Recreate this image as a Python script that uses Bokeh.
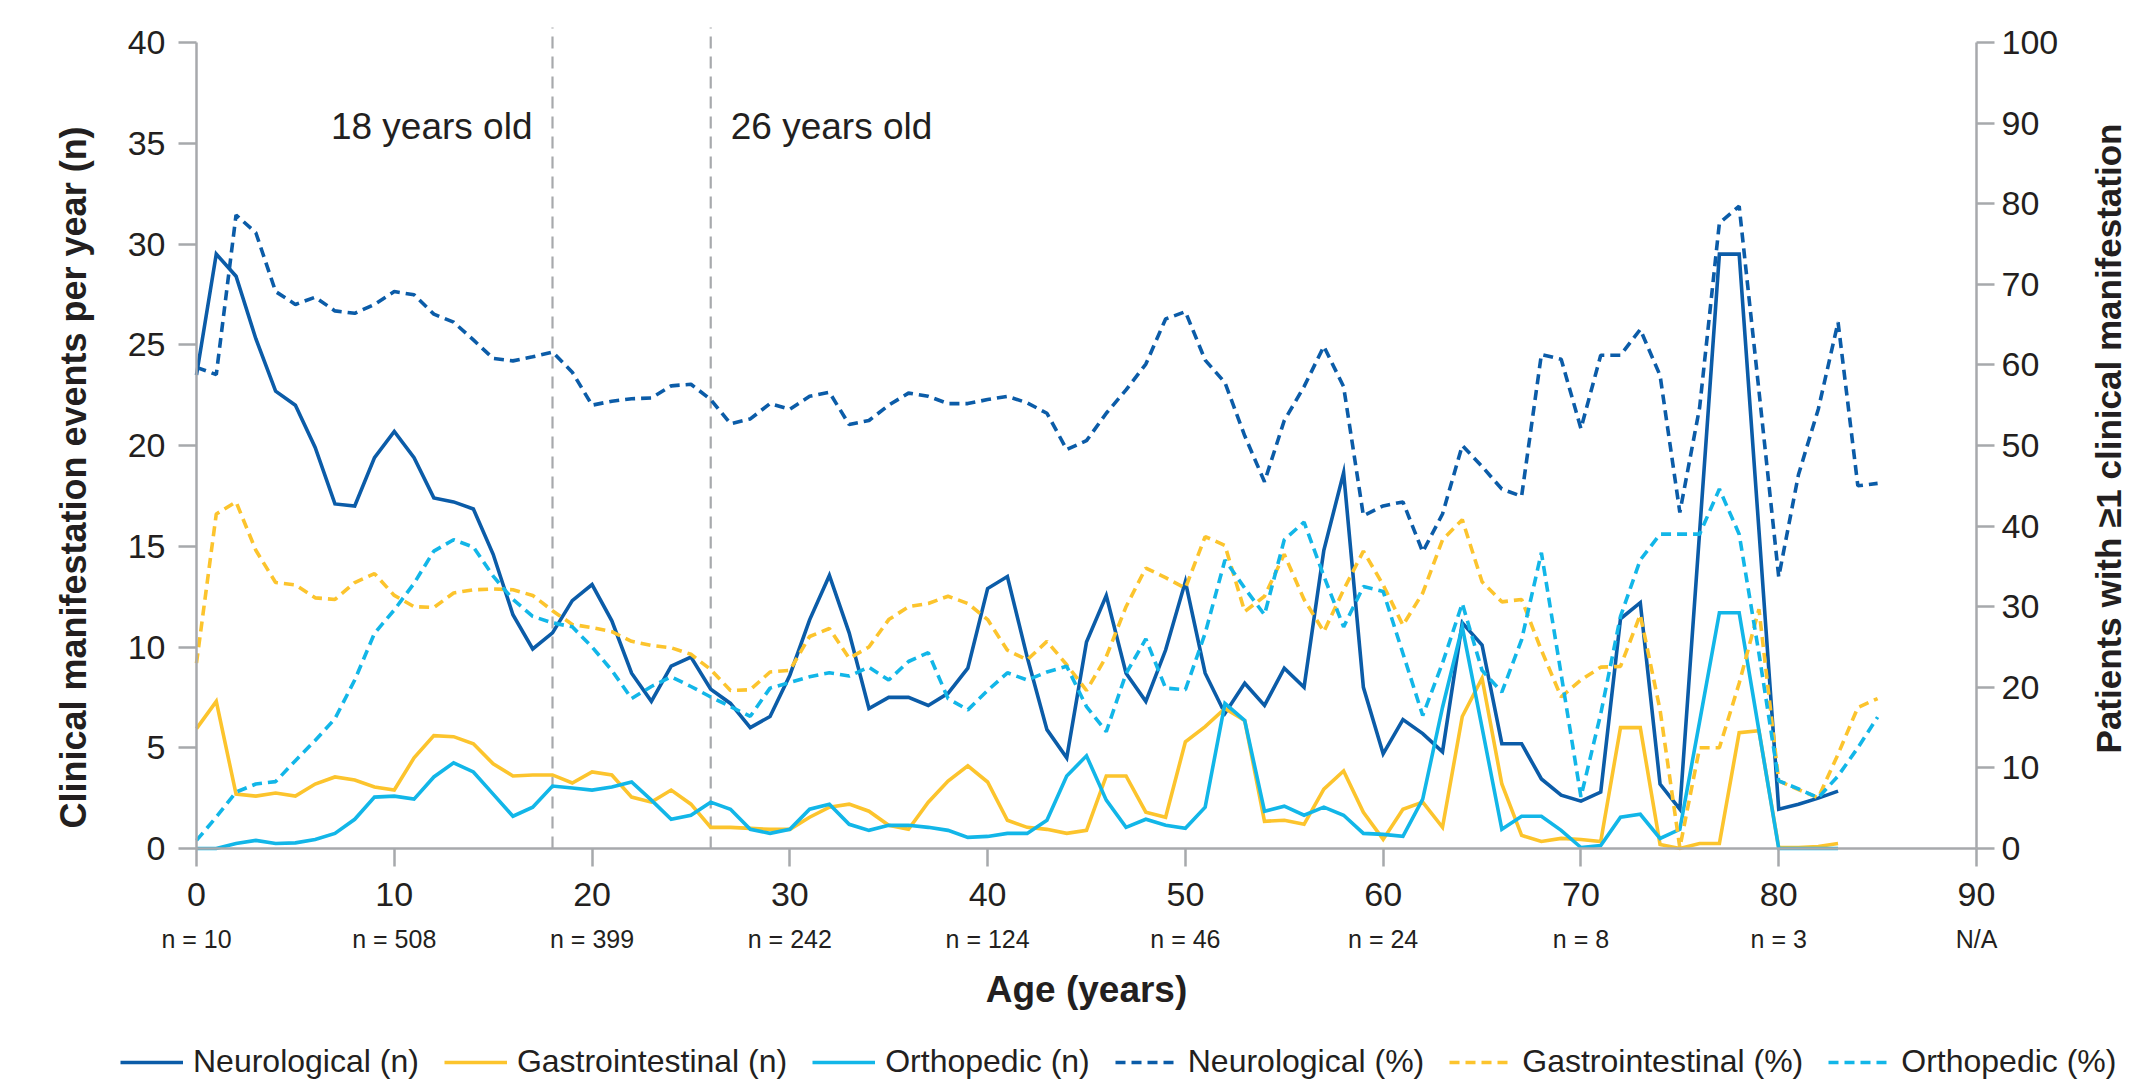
import math
from bokeh.plotting import figure
from bokeh.models import Range1d, LinearAxis, FixedTicker, Label, Legend, LegendItem
from bokeh.embed import file_html
from bokeh.resources import INLINE

# ---------------- data ----------------
AGES_N = list(range(0, 84))
AGES_PCT = list(range(0, 86))

neuro_n = [23.5, 29.5, 28.4, 25.3, 22.7, 22.0, 19.9, 17.1, 17.0, 19.4,
           20.7, 19.4, 17.4, 17.2, 16.85, 14.6, 11.6, 9.9, 10.7, 12.3,
           13.1, 11.3, 8.7, 7.3, 9.05, 9.5, 7.9, 7.2, 6.0, 6.55,
           8.6, 11.35, 13.55, 10.7, 6.95, 7.5, 7.5, 7.1, 7.7, 8.95,
           12.9, 13.5, 9.5, 5.9, 4.5, 10.25, 12.55, 8.7, 7.3, 9.85,
           13.25, 8.7, 6.7, 8.2, 7.1, 8.95, 8.0, 14.8, 18.65, 8.0,
           4.7, 6.4, 5.7, 4.8, 11.2, 10.1, 5.2, 5.2, 3.45, 2.65,
           2.35, 2.8, 11.4, 12.2, 3.2, 1.95, 15.7, 29.5, 29.5, 15.8,
           1.95, 2.2, 2.5, 2.85]

gi_n = [5.95, 7.3, 2.7, 2.6, 2.75, 2.6, 3.2, 3.55, 3.4, 3.05,
        2.9, 4.5, 5.6, 5.55, 5.2, 4.2, 3.6, 3.65, 3.65, 3.25,
        3.8, 3.65, 2.55, 2.3, 2.9, 2.2, 1.05, 1.05, 1.0, 0.95,
        0.95, 1.55, 2.05, 2.2, 1.85, 1.15, 0.95, 2.3, 3.35, 4.1,
        3.3, 1.4, 1.05, 0.95, 0.75, 0.9, 3.6, 3.6, 1.8, 1.55,
        5.3, 6.05, 6.95, 6.35, 1.35, 1.4, 1.2, 2.95, 3.85, 1.8,
        0.45, 1.95, 2.3, 1.05, 6.55, 8.45, 3.2, 0.65, 0.35, 0.5,
        0.45, 0.35, 6.0, 6.0, 0.2, 0.0, 0.25, 0.25, 5.75, 5.85,
        0.05, 0.05, 0.1, 0.25]

ortho_n = [0.0, 0.0, 0.25, 0.4, 0.25, 0.28, 0.45, 0.75, 1.45, 2.55,
           2.6, 2.45, 3.55, 4.25, 3.8, 2.7, 1.6, 2.05, 3.1, 3.0,
           2.9, 3.05, 3.3, 2.4, 1.45, 1.65, 2.3, 1.95, 0.95, 0.75,
           0.95, 1.95, 2.2, 1.2, 0.9, 1.15, 1.15, 1.05, 0.9, 0.55,
           0.6, 0.75, 0.75, 1.4, 3.6, 4.6, 2.4, 1.05, 1.45, 1.15,
           1.0, 2.05, 7.2, 6.35, 1.85, 2.1, 1.65, 2.05, 1.65, 0.75,
           0.7, 0.6, 2.45, 7.0, 11.0, 6.0, 0.95, 1.6, 1.6, 0.9,
           0.05, 0.15, 1.55, 1.7, 0.5, 0.95, 6.3, 11.7, 11.7, 5.85,
           0.0, 0.0, 0.0, 0.0]

neuro_pct = [59.7, 58.8, 78.6, 76.4, 69.1, 67.5, 68.4, 66.7, 66.4, 67.5,
             69.1, 68.7, 66.3, 65.3, 63.1, 60.8, 60.5, 61.0, 61.6, 59.1,
             55.0, 55.5, 55.8, 55.9, 57.4, 57.6, 55.7, 52.7, 53.3, 55.2,
             54.5, 56.1, 56.6, 52.6, 53.1, 55.0, 56.5, 56.1, 55.2, 55.2,
             55.7, 56.1, 55.3, 54.0, 49.5, 50.6, 54.0, 56.9, 60.1, 65.7,
             66.6, 60.6, 57.8, 51.2, 45.5, 53.1, 57.3, 62.3, 57.3, 41.3,
             42.5, 43.0, 36.8, 41.5, 50.0, 47.4, 44.6, 43.7, 61.3, 60.7,
             52.1, 61.2, 61.2, 64.4, 58.7, 41.7, 54.7, 77.6, 79.7, 56.8,
             33.7, 46.4, 54.5, 65.3, 45.0, 45.3]

gi_pct = [23.0, 41.5, 43.0, 37.0, 33.0, 32.7, 31.1, 30.9, 33.0, 34.1,
          31.4, 30.0, 29.9, 31.7, 32.1, 32.2, 32.1, 31.4, 29.5, 27.8,
          27.4, 26.9, 25.7, 25.2, 24.9, 24.1, 22.2, 19.6, 19.7, 21.9,
          22.1, 26.3, 27.3, 23.6, 25.0, 28.4, 30.0, 30.4, 31.3, 30.4,
          28.4, 24.6, 23.4, 25.7, 22.8, 19.6, 23.8, 30.0, 34.8, 33.6,
          32.3, 38.7, 37.6, 29.4, 31.3, 36.5, 30.9, 26.9, 32.1, 36.9,
          32.7, 27.7, 31.7, 38.3, 40.8, 33.1, 30.6, 30.9, 24.6, 18.8,
          20.9, 22.5, 22.6, 29.0, 17.2, 0.1, 12.5, 12.5, 20.5, 29.7,
          8.4, 7.3, 6.3, 11.7, 17.5, 18.6]

ortho_pct = [1.0, 3.9, 7.0, 8.0, 8.3, 10.9, 13.4, 16.1, 20.9, 26.7,
             29.6, 32.9, 36.9, 38.3, 37.4, 33.8, 30.9, 28.8, 28.0, 27.5,
             25.0, 22.1, 18.6, 20.1, 21.3, 20.1, 18.8, 17.6, 16.4, 19.9,
             20.6, 21.3, 21.8, 21.4, 22.5, 20.9, 23.2, 24.3, 18.6, 17.2,
             19.6, 21.8, 20.9, 21.9, 22.6, 17.6, 14.5, 21.7, 26.0, 19.9,
             19.7, 26.7, 35.8, 32.3, 29.0, 38.3, 40.5, 33.8, 27.5, 32.5,
             31.9, 24.2, 16.5, 23.0, 30.4, 22.1, 19.4, 25.9, 36.7, 21.6,
             6.4, 16.7, 28.8, 35.8, 39.0, 39.0, 39.0, 44.6, 39.0, 24.2,
             8.4, 7.4, 6.3, 9.0, 12.5, 16.3]

X_TICKS = [0, 10, 20, 30, 40, 50, 60, 70, 80, 90]
N_LABELS = ["n = 10", "n = 508", "n = 399", "n = 242", "n = 124",
            "n = 46", "n = 24", "n = 8", "n = 3", "N/A"]
LEFT_TICKS = [0, 5, 10, 15, 20, 25, 30, 35, 40]
RIGHT_TICKS = [0, 10, 20, 30, 40, 50, 60, 70, 80, 90, 100]
MARKER_AGES = [18, 26]
MARKER_TEXT = ["18 years old", "26 years old"]
LEFT_TITLE = "Clinical manifestation events per year (n)"
RIGHT_TITLE = "Patients with \u22651 clinical manifestation"
X_TITLE = "Age (years)"

SERIES_N = [("Neurological (n)", neuro_n), ("Gastrointestinal (n)", gi_n), ("Orthopedic (n)", ortho_n)]
SERIES_PCT = [("Neurological (%)", neuro_pct), ("Gastrointestinal (%)", gi_pct), ("Orthopedic (%)", ortho_pct)]
COLORS = ["#0B5CA8", "#FCC42D", "#12B6E8"]

# ---------------- layout geometry (pixels) ----------------
W, H = 2131, 1081
PX_LEFT, PX_RIGHT = 196, 1976       # x = 0 and x = 90
PX_ZERO, PX_FORTY = 848, 42         # y = 0 and y = 40
ppx = (PX_RIGHT - PX_LEFT) / 90.0
ppy = (PX_ZERO - PX_FORTY) / 40.0
X_RANGE = (-PX_LEFT / ppx, (W - PX_LEFT) / ppx)
Y_RANGE = (-(H - PX_ZERO) / ppy, PX_ZERO / ppy)
PCT_RANGE = (Y_RANGE[0] * 2.5, Y_RANGE[1] * 2.5)
MARK_TOP = 40.75

FONT = "Liberation Sans"
TXT = "#231F20"
AXIS_GREY = "#A7A9AC"

p = figure(width=W, height=H, output_backend="svg", toolbar_location=None,
           x_range=Range1d(*X_RANGE), y_range=Range1d(*Y_RANGE), min_border=0)
p.title.visible = False
p.outline_line_color = None
p.xgrid.visible = False
p.ygrid.visible = False
p.extra_y_ranges = {"pct": Range1d(*PCT_RANGE)}


def style_axis(ax, size="34px"):
    ax.axis_line_color = AXIS_GREY
    ax.axis_line_width = 2.5
    ax.major_tick_line_color = AXIS_GREY
    ax.major_tick_line_width = 2.5
    ax.major_tick_out = 18
    ax.major_tick_in = 0
    ax.minor_tick_line_color = None
    ax.major_label_text_font = FONT
    ax.major_label_text_font_size = size
    ax.major_label_text_color = TXT


# bottom axis (ages) at y = 0
xa = p.xaxis[0]
xa.ticker = FixedTicker(ticks=X_TICKS)
xa.bounds = (0, 90)
xa.fixed_location = 0
style_axis(xa)
xa.major_label_standoff = 16

# "n = ..." row under the age labels
xa2 = LinearAxis(ticker=FixedTicker(ticks=X_TICKS), fixed_location=0,
                 major_label_overrides={t: s for t, s in zip(X_TICKS, N_LABELS)})
style_axis(xa2, size="25px")
xa2.axis_line_color = None
xa2.major_tick_line_color = None
xa2.major_tick_out = 0
xa2.major_label_standoff = 76
p.add_layout(xa2, "below")

# left axis at x = 0
ya = p.yaxis[0]
ya.ticker = FixedTicker(ticks=LEFT_TICKS)
ya.bounds = (0, 40)
ya.fixed_location = 0
style_axis(ya)
ya.major_label_standoff = 13

# right axis at x = 90
yr = LinearAxis(y_range_name="pct", ticker=FixedTicker(ticks=RIGHT_TICKS), bounds=(0, 100),
                fixed_location=90)
style_axis(yr)
yr.major_label_standoff = 7
p.add_layout(yr, "right")

# axis titles
p.add_layout(Label(x=73, y=H - 477, x_units="screen", y_units="screen", text=LEFT_TITLE,
                   angle=math.pi / 2, text_align="center", text_baseline="middle",
                   text_font=FONT, text_font_style="bold", text_font_size="36px", text_color=TXT))
p.add_layout(Label(x=2108, y=H - 438, x_units="screen", y_units="screen", text=RIGHT_TITLE,
                   angle=math.pi / 2, text_align="center", text_baseline="middle",
                   text_font=FONT, text_font_style="bold", text_font_size="35px", text_color=TXT))
p.add_layout(Label(x=45, y=H - 989, y_units="screen", text=X_TITLE,
                   text_align="center", text_baseline="alphabetic",
                   text_font=FONT, text_font_style="bold", text_font_size="37px", text_color=TXT))

# reference age markers
p.segment(x0=MARKER_AGES, y0=[0] * len(MARKER_AGES), x1=MARKER_AGES, y1=[MARK_TOP] * len(MARKER_AGES),
          line_color="#A7A9AC", line_width=2.2, line_dash="12 8")
for age, txt, off, align in zip(MARKER_AGES, MARKER_TEXT, [-20, 20], ["right", "left"]):
    p.add_layout(Label(x=age, y=35.82, x_offset=off, text=txt, text_align=align,
                       text_baseline="alphabetic", text_font=FONT, text_font_size="37px",
                       text_color=TXT))

items = []
for (name, vals), col in zip(SERIES_N, COLORS):
    r = p.line(AGES_N, vals, line_color=col, line_width=3.6, line_join="miter")
    items.append(LegendItem(label=name, renderers=[r]))
for (name, vals), col in zip(SERIES_PCT, COLORS):
    r = p.line(AGES_PCT, vals, y_range_name="pct", line_color=col, line_width=3.6,
               line_dash="10 6")
    items.append(LegendItem(label=name, renderers=[r]))

legend = Legend(items=items, orientation="horizontal", location=(120, 1),
                label_text_font=FONT, label_text_font_size="32px", label_text_color=TXT,
                glyph_width=63, glyph_height=30, label_standoff=10, spacing=25,
                padding=0, margin=0, border_line_color=None, background_fill_alpha=0)
p.add_layout(legend, "center")

open("out.html", "w").write(file_html(p, INLINE))
